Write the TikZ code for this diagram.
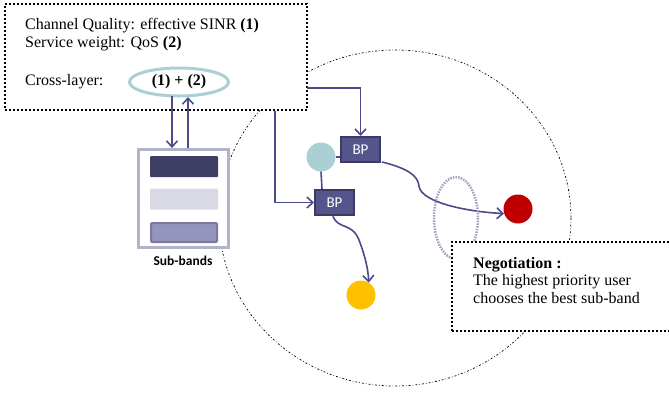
\documentclass[tikz,border=0pt]{standalone}
\usepackage{fontspec}
\setmainfont{Liberation Serif}
\newfontfamily\calib{Carlito}
\usetikzlibrary{arrows.meta,shapes.geometric}
\definecolor{lineblue}{RGB}{75,75,140}
\definecolor{bpfill}{RGB}{85,85,140}
\definecolor{bpdraw}{RGB}{58,58,98}
\definecolor{sbdraw}{RGB}{178,178,200}
\definecolor{barA}{RGB}{62,62,100}
\definecolor{barB}{RGB}{217,217,227}
\definecolor{barC}{RGB}{148,148,190}
\definecolor{barCd}{RGB}{122,122,160}
\definecolor{tealc}{RGB}{170,208,212}
\definecolor{redc}{RGB}{192,0,0}
\definecolor{yelc}{RGB}{255,192,0}
\definecolor{gdot}{RGB}{160,160,192}
\tikzset{
  txt/.style={font=\fontsize{16}{19}\selectfont, inner sep=0pt, anchor=base west},
  dotbox/.style={draw=black, fill=white, line width=2pt, dash pattern=on 2pt off 2pt},
  conn/.style={draw=lineblue, line width=1.6pt},
  arr/.style={conn, -{Straight Barb[length=6pt,width=11pt,line width=1.6pt]}},
  bpbox/.style={draw=bpdraw, fill=bpfill, line width=2pt, minimum width=39pt, minimum height=25pt, inner sep=0pt, text=white, font=\calib\fontsize{15}{15}\selectfont},
  userdot/.style={circle, minimum size=29pt, inner sep=0pt},
  bar/.style={minimum width=68pt, minimum height=21pt, inner sep=0pt, rounded corners=1pt}
}
\begin{document}
\begin{tikzpicture}[x=1pt,y=-1pt]
\useasboundingbox (0,0) rectangle (669,394);
% big cell
\draw[black, line width=0.7pt, dash pattern=on 2pt off 2pt on 0.7pt off 2pt] (395,218) ellipse [x radius=176, y radius=168];
% top-left info box
\node[dotbox, minimum width=302pt, minimum height=106pt, inner sep=0pt] (info) at (156,57) {};
\node[txt] (t1) at (25,29.5) {Channel Quality: effective SINR \textbf{(1)}};
\node[txt] (t2) at (25,47) {Service weight: QoS \textbf{(2)}};
\node[txt] (t3) at (25,85) {Cross-layer:};
\node[ellipse, draw=tealc, line width=3pt, minimum width=99pt, minimum height=28pt, inner sep=0pt, font=\fontsize{16}{19}\selectfont\bfseries] (cl) at (179,82) {(1) + (2)};
% sub-bands
\node[draw=sbdraw, fill=white, line width=3pt, minimum width=90pt, minimum height=98pt, inner sep=0pt] (sb) at (183.5,198.5) {};
\node[bar, fill=barA] (b1) at (184,166.5) {};
\node[bar, fill=barB] (b2) at (184,199) {};
\node[bar, fill=barC, draw=barCd, line width=2pt, minimum width=66pt, minimum height=19pt] (b3) at (184,232.5) {};
\node[font=\calib\bfseries\fontsize{13.5}{14}\selectfont, inner sep=0pt] (sbl) at (183,261) {Sub-bands};
\coordinate (e1) at (172,96);
\coordinate (e2) at (188,97);
\draw[arr] (e1) -- (e1 |- sb.north);
\draw[arr] (e2 |- sb.north) -- (e2);
% users and BPs
\node[userdot, fill=tealc] (teal) at (321,157) {};
\node[bpbox] (bp1) at (360.5,149.5) {BP};
\node[bpbox] (bp2) at (334.5,202.5) {BP};
\node[userdot, fill=redc] (red) at (518,209) {};
\node[userdot, fill=yelc] (yel) at (361,295) {};
\draw[conn] (teal.east) -- (teal.east -| bp1.west);
\draw[conn] (teal.south) -- (bp2.north -| 322,0);
\coordinate (o1) at (307,88);
\coordinate (o2) at (275,111);
\draw[arr] (o1) -| (bp1.north);
\draw[arr] (o2) |- (bp2.west);
\draw[arr] (382,162) .. controls (406,168) and (418,175) .. (419,186) .. controls (421,203) and (470,212) .. (red.198);
\draw[arr] (333,216) .. controls (338,230) and (352,222) .. (359,240) .. controls (365,256) and (368,268) .. (yel.58);
% negotiation
\draw[gdot, line width=2.5pt, dash pattern=on 1.5pt off 1.2pt] (456,218) ellipse [x radius=22, y radius=41];
\node[dotbox, minimum width=224pt, minimum height=89pt, inner sep=0pt] (neg) at (564,286.5) {};
\node[txt, font=\fontsize{16}{19}\selectfont\bfseries] (n1) at (473,268) {Negotiation :};
\node[txt] (n2) at (473,285.5) {The highest priority user};
\node[txt] (n3) at (473,303) {chooses the best sub-band};
\end{tikzpicture}
\end{document}
